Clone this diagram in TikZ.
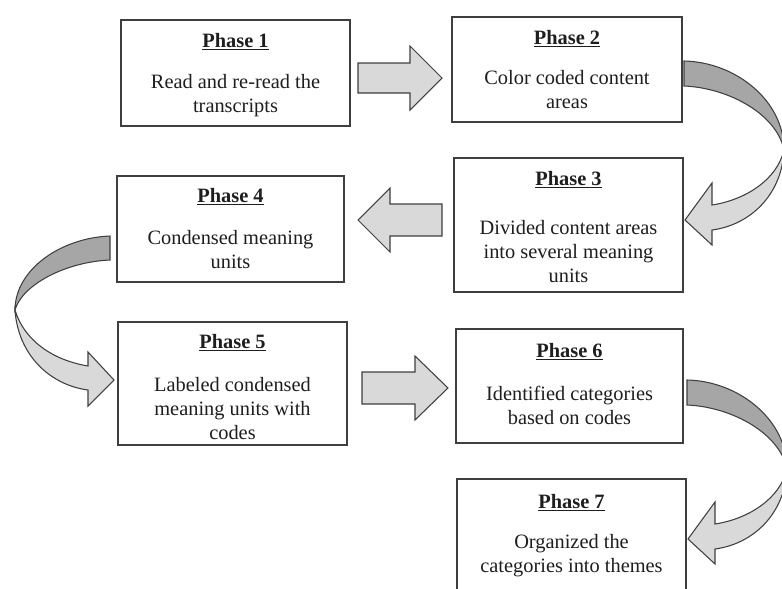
\documentclass[tikz,border=0pt]{standalone}
\usepackage{fontspec}
\setmainfont{Liberation Serif}
\definecolor{edge}{HTML}{3F3F3F}
\definecolor{lightfill}{HTML}{D9D9D9}
\definecolor{darkfill}{HTML}{A6A6A6}
\definecolor{ink}{HTML}{1E1E1E}
\begin{document}
\begin{tikzpicture}[x=0.02cm,y=-0.02cm,
  box/.style={draw=edge,line width=0.9pt,fill=white,inner sep=0pt},
  phasetitle/.style={anchor=base,font=\fontsize{11.6}{13.4}\selectfont\bfseries,text=ink,inner sep=0pt},
  phasebody/.style={anchor=base,align=center,font=\fontsize{11.6}{13.4}\selectfont,text=ink,inner sep=0pt},
  blockarrow/.style={draw=edge,line width=0.6pt,fill=lightfill,line join=miter},
  backband/.style={draw=edge,line width=0.6pt,fill=darkfill},
  frontband/.style={draw=edge,line width=0.6pt,fill=lightfill,line join=miter}]
\useasboundingbox (0,0) rectangle (782,589);

% curved arrows (behind)
\path[backband] (684,61) .. controls (735,62) and (784,100) .. (784,150) .. controls (777,115) and (730,88) .. (684,86) -- cycle;
\path[frontband] (784,150) .. controls (782,195) and (750,225) .. (712,230) -- (712,245) -- (685,220) -- (712,183) -- (712,205) .. controls (745,200) and (777,180) .. (784,150) -- cycle;

\begin{scope}[shift={(3,319)}]
\path[backband] (684,61) .. controls (735,62) and (784,100) .. (784,150) .. controls (777,115) and (730,88) .. (684,86) -- cycle;
\path[frontband] (784,150) .. controls (782,195) and (750,225) .. (712,230) -- (712,245) -- (685,220) -- (712,183) -- (712,205) .. controls (745,200) and (777,180) .. (784,150) -- cycle;
\end{scope}

\path[backband] (110,236) .. controls (60,238) and (15,270) .. (15,310) .. controls (22,285) and (65,262) .. (110,260) -- cycle;
\path[frontband] (15,310) .. controls (18,355) and (50,385) .. (88,390) -- (88,406) -- (114,380) -- (88,352) -- (88,366) .. controls (52,360) and (24,340) .. (15,310) -- cycle;

% boxes
\node[box,minimum width=4.58cm,minimum height=2.12cm] (p1) at (235.5,73) {};
\node[box,minimum width=4.60cm,minimum height=2.10cm] (p2) at (567,69.5) {};
\node[box,minimum width=4.58cm,minimum height=2.68cm] (p3) at (568.5,225) {};
\node[box,minimum width=4.54cm,minimum height=2.12cm] (p4) at (230.5,229) {};
\node[box,minimum width=4.58cm,minimum height=2.46cm] (p5) at (232.5,383.5) {};
\node[box,minimum width=4.54cm,minimum height=2.28cm] (p6) at (569.5,386) {};
\node[box,minimum width=4.58cm,minimum height=2.62cm] (p7) at (571.5,544.5) {};

% texts
\node[phasetitle] (t1) at (235.5,47) {\underline{Phase 1}};
\node[phasebody] (b1) at (235.5,112) {Read and re-read the\\transcripts};
\node[phasetitle] (t2) at (567,44) {\underline{Phase 2}};
\node[phasebody] (b2) at (567,108) {Color coded content\\areas};
\node[phasetitle] (t3) at (568.5,185) {\underline{Phase 3}};
\node[phasebody] (b3) at (568.5,282) {Divided content areas\\into several meaning\\units};
\node[phasetitle] (t4) at (230.5,202) {\underline{Phase 4}};
\node[phasebody] (b4) at (230.5,268) {Condensed meaning\\units};
\node[phasetitle] (t5) at (232.5,348) {\underline{Phase 5}};
\node[phasebody] (b5) at (232.5,439) {Labeled condensed\\meaning units with\\codes};
\node[phasetitle] (t6) at (569.5,357) {\underline{Phase 6}};
\node[phasebody] (b6) at (569.5,424) {Identified categories\\based on codes};
\node[phasetitle] (t7) at (571.5,508) {\underline{Phase 7}};
\node[phasebody] (b7) at (571.5,572) {Organized the\\categories into themes};

% straight block arrows
\path[blockarrow] (358,63) -- (410,63) -- (410,46) -- (442,78) -- (410,110) -- (410,93) -- (358,93) -- cycle;
\path[blockarrow] (442,204) -- (390,204) -- (390,188) -- (358,220) -- (390,252) -- (390,236) -- (442,236) -- cycle;
\path[blockarrow] (362,372) -- (415,372) -- (415,356) -- (448,388) -- (415,420) -- (415,404) -- (362,404) -- cycle;
\end{tikzpicture}
\end{document}
